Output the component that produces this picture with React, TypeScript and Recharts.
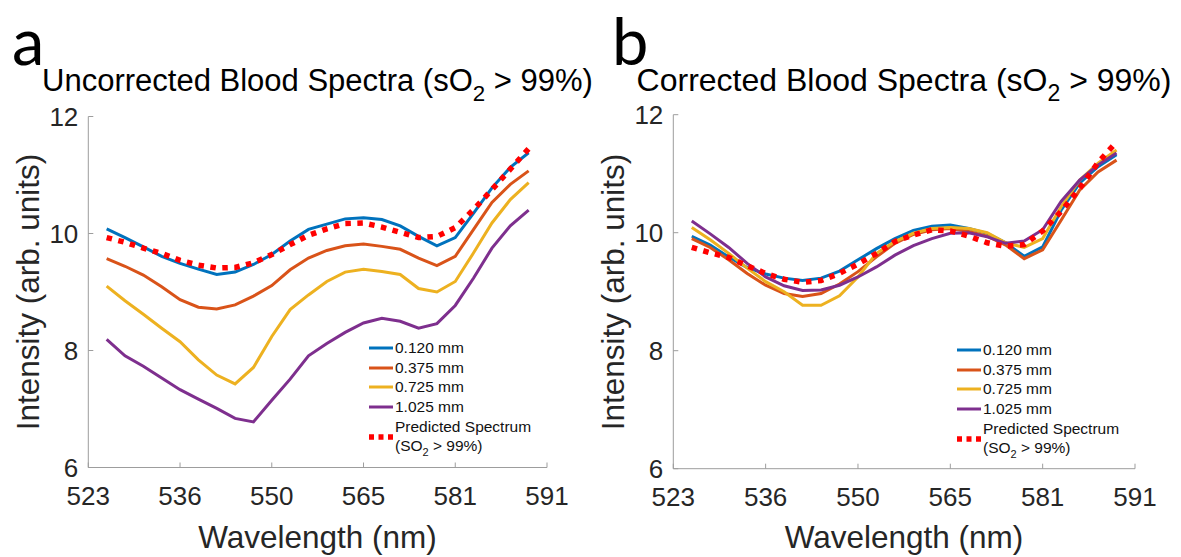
import React from 'react';
import { LineChart, Line, XAxis, YAxis, Legend } from 'recharts';

const FONT = '"Liberation Sans", Arial, Helvetica, sans-serif';

const tickPositions = [0, 5, 10, 15, 20, 25];
const wavelengthLabels = ['523', '536', '550', '565', '581', '591'];
const yTicks = [6, 8, 10, 12];

const seriesNames = ['0.120 mm', '0.375 mm', '0.725 mm', '1.025 mm'];
const seriesColors = ['#0072BD', '#D95319', '#EDB120', '#7E2F8E'];
const predictedColor = '#FF0000';

// Panel a: uncorrected spectra
const uncorr120 = [10.08, 9.93, 9.77, 9.61, 9.49, 9.39, 9.30, 9.34, 9.47, 9.64, 9.87, 10.07, 10.16, 10.25, 10.27, 10.24, 10.13, 9.95, 9.79, 9.93, 10.35, 10.78, 11.13, 11.38];
const uncorr375 = [9.57, 9.44, 9.29, 9.09, 8.87, 8.74, 8.71, 8.78, 8.93, 9.11, 9.38, 9.58, 9.71, 9.79, 9.82, 9.78, 9.73, 9.58, 9.45, 9.61, 10.07, 10.53, 10.84, 11.07];
const uncorr725 = [9.10, 8.85, 8.62, 8.38, 8.15, 7.84, 7.58, 7.43, 7.71, 8.24, 8.70, 8.95, 9.18, 9.34, 9.39, 9.35, 9.30, 9.06, 9.00, 9.18, 9.67, 10.18, 10.58, 10.87];
const uncorr1025 = [8.19, 7.91, 7.73, 7.53, 7.33, 7.17, 7.01, 6.84, 6.78, 7.15, 7.51, 7.91, 8.12, 8.31, 8.47, 8.55, 8.50, 8.38, 8.46, 8.77, 9.24, 9.75, 10.13, 10.40];
const predictedA = [9.93, 9.85, 9.75, 9.66, 9.54, 9.46, 9.41, 9.42, 9.50, 9.64, 9.81, 9.97, 10.08, 10.17, 10.18, 10.11, 10.02, 9.93, 9.95, 10.10, 10.41, 10.75, 11.10, 11.45];

// Panel b: corrected spectra
const corr120 = [9.94, 9.79, 9.59, 9.41, 9.30, 9.23, 9.19, 9.23, 9.35, 9.54, 9.73, 9.90, 10.04, 10.11, 10.13, 10.07, 9.99, 9.83, 9.60, 9.76, 10.38, 10.84, 11.12, 11.32];
const corr375 = [9.90, 9.75, 9.54, 9.31, 9.11, 8.97, 8.92, 8.97, 9.13, 9.34, 9.59, 9.82, 9.97, 10.05, 10.07, 10.02, 9.94, 9.79, 9.56, 9.71, 10.21, 10.72, 11.03, 11.23];
const corr725 = [10.09, 9.88, 9.65, 9.40, 9.17, 9.00, 8.77, 8.77, 8.93, 9.25, 9.65, 9.85, 9.99, 10.07, 10.09, 10.07, 10.00, 9.83, 9.75, 9.90, 10.44, 10.89, 11.18, 11.40];
const corr1025 = [10.20, 9.98, 9.75, 9.48, 9.25, 9.10, 9.02, 9.03, 9.11, 9.25, 9.42, 9.62, 9.78, 9.90, 9.99, 10.00, 9.93, 9.82, 9.86, 10.05, 10.53, 10.89, 11.15, 11.35];
const predictedB = [9.75, 9.66, 9.58, 9.44, 9.31, 9.21, 9.16, 9.19, 9.31, 9.47, 9.65, 9.85, 9.96, 10.05, 10.03, 9.94, 9.83, 9.77, 9.80, 10.03, 10.36, 10.75, 11.19, 11.54];

const buildRows = (series: number[][], pred: number[]) =>
  pred.map((p, i) => ({
    k: i + 1,
    s0: series[0][i],
    s1: series[1][i],
    s2: series[2][i],
    s3: series[3][i],
    pred: p,
  }));

const dataA = buildRows([uncorr120, uncorr375, uncorr725, uncorr1025], predictedA);
const dataB = buildRows([corr120, corr375, corr725, corr1025], predictedB);

const AXIS_COLOR = '#9d9d9d';
const TEXT_COLOR = '#262626';

const LegendBox = () => (
  <div style={{ fontFamily: FONT, fontSize: 15.5, color: '#111', lineHeight: '19.7px' }}>
    {seriesNames.map((n, i) => (
      <div key={n} style={{ display: 'flex', alignItems: 'center', height: 19.7 }}>
        <svg width={26} height={6} style={{ display: 'block' }}>
          <line x1={0} y1={3} x2={24} y2={3} stroke={seriesColors[i]} strokeWidth={3} />
        </svg>
        <span style={{ whiteSpace: 'nowrap' }}>{n}</span>
      </div>
    ))}
    <div style={{ display: 'flex', alignItems: 'center' }}>
      <svg width={26} height={8} style={{ display: 'block' }}>
        <line x1={0} y1={4} x2={24} y2={4} stroke={predictedColor} strokeWidth={5.5} strokeDasharray="5 4.5" />
      </svg>
      <div>
        <div style={{ whiteSpace: 'nowrap' }}>Predicted Spectrum</div>
        <div style={{ whiteSpace: 'nowrap' }}>
          (SO<span style={{ fontSize: 11, position: 'relative', top: 5 }}>2</span> &gt; 99%)
        </div>
      </div>
    </div>
  </div>
);

type PanelProps = {
  data: any[];
  width: number;
  margin: { top: number; right: number; bottom: number; left: number };
  legendLeft: number;
  legendTop: number;
};

const Panel = ({ data, width, margin, legendLeft, legendTop }: PanelProps) => (
  <LineChart width={width} height={557} data={data} margin={margin}>
    <XAxis
      dataKey="k"
      type="number"
      domain={[0, 25]}
      ticks={tickPositions}
      interval={0}
      tickFormatter={(v: number) => wavelengthLabels[tickPositions.indexOf(v)]}
      height={60}
      tickSize={-5}
      tickMargin={24}
      axisLine={{ stroke: AXIS_COLOR }}
      tickLine={{ stroke: AXIS_COLOR }}
      tick={{ fill: TEXT_COLOR, fontSize: 26, fontFamily: FONT }}
    />
    <XAxis
      xAxisId="top"
      orientation="top"
      type="number"
      domain={[0, 25]}
      ticks={tickPositions}
      interval={0}
      height={0}
      tick={false}
      tickSize={-5}
      axisLine={{ stroke: AXIS_COLOR }}
      tickLine={{ stroke: AXIS_COLOR }}
    />
    <YAxis
      type="number"
      domain={[6, 12]}
      ticks={yTicks}
      interval={0}
      width={70}
      tickSize={-5}
      tickMargin={15}
      axisLine={{ stroke: AXIS_COLOR }}
      tickLine={{ stroke: AXIS_COLOR }}
      tick={{ fill: TEXT_COLOR, fontSize: 26, fontFamily: FONT }}
    />
    <YAxis
      yAxisId="right"
      orientation="right"
      type="number"
      domain={[6, 12]}
      ticks={yTicks}
      interval={0}
      width={0}
      tick={false}
      tickSize={-5}
      axisLine={{ stroke: AXIS_COLOR }}
      tickLine={{ stroke: AXIS_COLOR }}
    />
    {seriesNames.map((n, i) => (
      <Line
        key={n}
        type="linear"
        dataKey={`s${i}`}
        name={n}
        stroke={seriesColors[i]}
        strokeWidth={3}
        dot={false}
        activeDot={false}
        isAnimationActive={false}
      />
    ))}
    <Line
      type="linear"
      dataKey="pred"
      name="Predicted Spectrum"
      stroke={predictedColor}
      strokeWidth={5.5}
      strokeDasharray="5.5 6.5"
      dot={false}
      activeDot={false}
      isAnimationActive={false}
    />
    <Legend
      layout="vertical"
      align="center"
      verticalAlign="middle"
      content={<LegendBox />}
      wrapperStyle={{ left: legendLeft, top: legendTop, width: 'auto' }}
    />
  </LineChart>
);

const Title = ({ x, text, size }: { x: number; text: string; size: number }) => (
  <text x={x} y={91} textAnchor="middle" fontFamily={FONT} fontSize={size} fill="#000">
    {text} (sO
    <tspan dy={10} fontSize={size * 0.72}>2</tspan>
    <tspan dy={-10}> &gt; 99%)</tspan>
  </text>
);

export default function App() {
  return (
    <div style={{ position: 'fixed', left: 0, top: 0, width: 1181, height: 557, background: '#fff', overflow: 'hidden' }}>
      <div style={{ position: 'absolute', left: 0, top: 0 }}>
        <Panel
          data={dataA}
          width={600}
          margin={{ top: 116.5, right: 53, bottom: 29.5, left: 18.3 }}
          legendLeft={369}
          legendTop={338}
        />
      </div>
      <div style={{ position: 'absolute', left: 590, top: 0 }}>
        <Panel
          data={dataB}
          width={591}
          margin={{ top: 114.7, right: 46, bottom: 28.3, left: 13.3 }}
          legendLeft={367}
          legendTop={340}
        />
      </div>
      <svg width={1181} height={557} style={{ position: 'absolute', left: 0, top: 0, pointerEvents: 'none' }}>
        <text x={12} y={65} fontFamily="Lato, 'Open Sans', sans-serif" fontSize={65} fill="#000">a</text>
        <text x={612} y={65} fontFamily="Lato, 'Open Sans', sans-serif" fontSize={65} fill="#000">b</text>
        <Title x={317.5} text="Uncorrected Blood Spectra" size={31} />
        <Title x={904} text="Corrected Blood Spectra" size={32} />
        <text x={28} y={292} transform="rotate(-90 28 292)" textAnchor="middle" dominantBaseline="central" fontFamily={FONT} fontSize={31.5} fill={TEXT_COLOR}>
          Intensity (arb. units)
        </text>
        <text x={613} y={292} transform="rotate(-90 613 292)" textAnchor="middle" dominantBaseline="central" fontFamily={FONT} fontSize={31.5} fill={TEXT_COLOR}>
          Intensity (arb. units)
        </text>
        <text x={317.5} y={548} textAnchor="middle" fontFamily={FONT} fontSize={31.5} fill={TEXT_COLOR}>Wavelength (nm)</text>
        <text x={904} y={548} textAnchor="middle" fontFamily={FONT} fontSize={31.5} fill={TEXT_COLOR}>Wavelength (nm)</text>
      </svg>
    </div>
  );
}
